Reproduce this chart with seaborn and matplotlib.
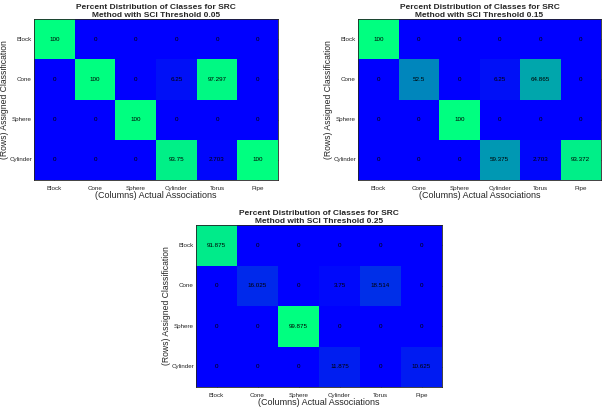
import numpy as np
import pandas as pd
import matplotlib
matplotlib.use("Agg")
import matplotlib.pyplot as plt
import seaborn as sns

sns.set_style("white")
plt.rcParams['font.family'] = ['Liberation Sans', 'DejaVu Sans']

rows = ["Block", "Cone", "Sphere", "Cylinder"]
cols = ["Block", "Cone", "Sphere", "Cylinder", "Torus", "Pipe"]
thresholds = ["0.05", "0.15", "0.25"]

# percent values, rows = assigned class, cols = actual association
vals_005 = [[100, 0, 0, 0, 0, 0],
            [0, 100, 0, 6.25, 97.297, 0],
            [0, 0, 100, 0, 0, 0],
            [0, 0, 0, 93.75, 2.703, 100]]
vals_015 = [[100, 0, 0, 0, 0, 0],
            [0, 52.5, 0, 6.25, 64.865, 0],
            [0, 0, 100, 0, 0, 0],
            [0, 0, 0, 59.375, 2.703, 93.372]]
vals_025 = [[91.875, 0, 0, 0, 0, 0],
            [0, 16.025, 0, 3.75, 18.514, 0],
            [0, 0, 99.875, 0, 0, 0],
            [0, 0, 0, 11.875, 0, 10.625]]

fig = plt.figure(figsize=(6.02, 4.08), dpi=100)
W, H = 602.0, 408.0
boxes = [(34, 19, 278, 180), (358, 19, 601, 180), (196, 225, 442, 387)]

for vals, thr, (x0, y0, x1, y1) in zip([vals_005, vals_015, vals_025], thresholds, boxes):
    ax = fig.add_axes([x0 / W, 1 - y1 / H, (x1 - x0) / W, (y1 - y0) / H])
    df = pd.DataFrame(vals, index=rows, columns=cols)
    labels = df.map(lambda v: "%g" % v)
    sns.heatmap(df, ax=ax, cmap="winter", vmin=0, vmax=100, cbar=False,
                annot=labels, fmt="", annot_kws={"fontsize": 4.5, "color": "black"})
    ax.set_title("Percent Distribution of Classes for SRC\nMethod with SCI Threshold " + thr,
                 fontsize=6, fontweight="bold", pad=1.5, linespacing=1.15)
    ax.set_xlabel("(Columns) Actual Associations", fontsize=6.5, labelpad=0.5)
    ax.set_ylabel("(Rows) Assigned Classification", fontsize=6.2, labelpad=0)
    ax.tick_params(axis="both", labelsize=4.5, length=2, width=0.5, direction="in", pad=1.5)
    ax.tick_params(axis="x", bottom=True, top=True, pad=4)
    ax.tick_params(axis="y", left=True, right=True, rotation=0)
    plt.setp(ax.get_xticklabels(), rotation=0)
    for s in ax.spines.values():
        s.set_visible(True)
        s.set_linewidth(0.6)
        s.set_color("#222222")

plt.savefig("out.png", dpi=100)
